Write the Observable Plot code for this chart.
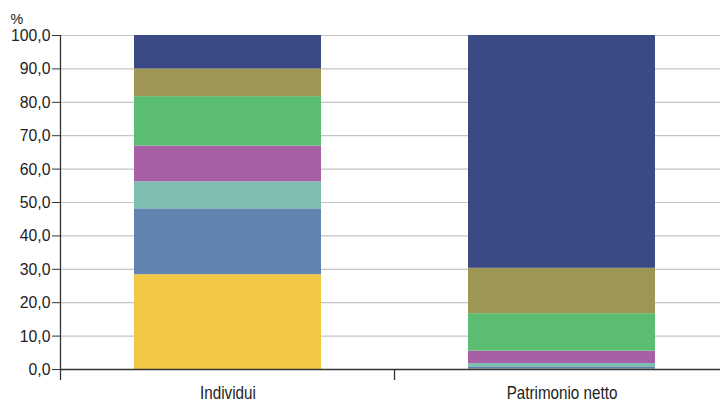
<!DOCTYPE html>
<html>
<head>
<meta charset="utf-8">
<script src="https://cdn.jsdelivr.net/npm/d3@7"></script>
<script src="https://cdn.jsdelivr.net/npm/@observablehq/plot@0.6"></script>
<style>
  body { margin: 0; background: #fff; }
  svg { display: block; }
</style>
</head>
<body>
<div id="chart"></div>
<script>
const categories = ["Individui", "Patrimonio netto"];
const series = ["s1", "s2", "s3", "s4", "s5", "s6", "s7"];
const colors = ["#f2c744", "#6184b0", "#7fbdb3", "#a75fa5", "#5bbd71", "#9e9657", "#3b4a85"];
const individui = [28.4, 19.7, 8.1, 10.7, 14.8, 8.3, 10.0];
const patrimonio = [0.1, 0.5, 1.2, 3.7, 11.2, 13.6, 69.7];
const yTicks = [0, 10, 20, 30, 40, 50, 60, 70, 80, 90, 100];

const data = [];
series.forEach((s, i) => {
  data.push({cat: categories[0], series: s, value: individui[i]});
  data.push({cat: categories[1], series: s, value: patrimonio[i]});
});

const font = "'Liberation Sans Narrow', 'Liberation Sans', sans-serif";
const fmt = d => d.toFixed(1).replace(".", ",");

const chart = Plot.plot({
  width: 720,
  height: 404,
  marginTop: 35,
  marginBottom: 35,
  marginLeft: 61,
  marginRight: 0,
  style: {fontFamily: font, fontSize: "17px", color: "#222", background: "#fff"},
  x: {domain: categories, range: [61, 729], paddingInner: 0.44, paddingOuter: 0.22, label: null},
  y: {domain: [0, 100], label: null},
  color: {domain: series, range: colors},
  marks: [
    Plot.gridY(yTicks, {stroke: "#c4c4c4", strokeOpacity: 1, strokeWidth: 1.2}),
    Plot.barY(data, {x: "cat", y: "value", fill: "series", order: series}),
    Plot.axisY(yTicks, {tickSize: 9, tickPadding: 2, tickFormat: fmt, fontSize: 17, stroke: "#333", fill: "#222", className: "yax"}),
    Plot.axisX({tickSize: 0, tickPadding: 17, fontSize: 18, fill: "#222", className: "xax"}),
    Plot.ruleY([0], {stroke: "#333", strokeWidth: 1.5}),
    Plot.text(["%"], {frameAnchor: "top-left", dx: -51, dy: -22, textAnchor: "start", fontSize: 15, fill: "#222", className: "pct"})
  ]
});

// condense text horizontally about its anchor point
function condense(sel, s) {
  d3.select(chart).selectAll(sel).each(function() {
    const x = +this.getAttribute("x") || 0;
    const y = +this.getAttribute("y") || 0;
    const prev = this.getAttribute("transform") || "";
    this.setAttribute("transform", `${prev} translate(${x},${y}) scale(${s},1) translate(${-x},${-y})`);
  });
}
condense(".xax text", 0.845);
condense(".yax text", 0.93);
condense(".pct text", 0.95);

// axis line and band separator ticks
const xs = chart.scale("x");
const ys = chart.scale("y");
const svg = d3.select(chart);
const y0 = ys.apply(0), y100 = ys.apply(100);
const gap = (xs.step - xs.bandwidth) / 2;
const bounds = categories.map(c => xs.apply(c) - gap);
svg.append("line").attr("x1", bounds[0]).attr("x2", bounds[0]).attr("y1", y100).attr("y2", y0 + 11)
  .attr("stroke", "#333").attr("stroke-width", 1.3);
svg.append("line").attr("x1", bounds[1]).attr("x2", bounds[1]).attr("y1", y0).attr("y2", y0 + 11)
  .attr("stroke", "#333").attr("stroke-width", 1.3);

document.getElementById("chart").appendChild(chart);
</script>
</body>
</html>
